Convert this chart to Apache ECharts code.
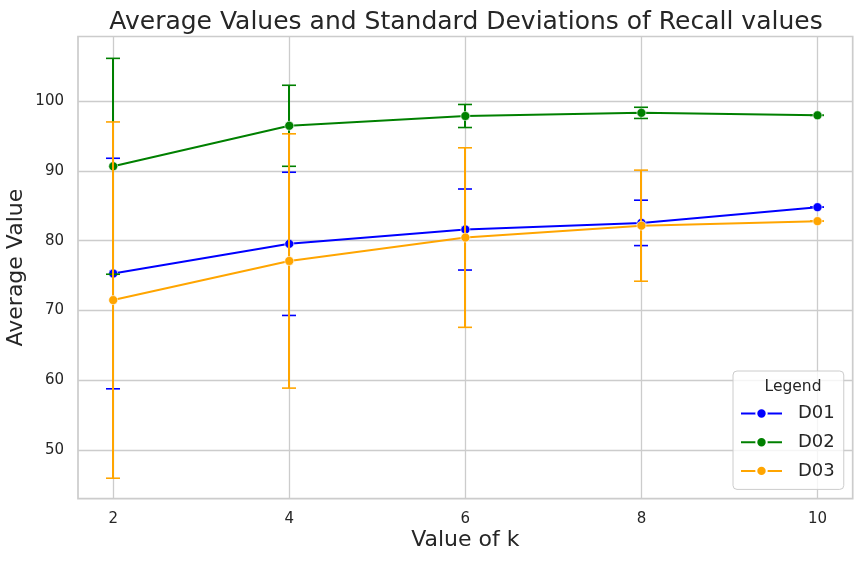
<!DOCTYPE html>
<html>
<head>
<meta charset="utf-8">
<script src="https://cdn.jsdelivr.net/npm/echarts@6/dist/echarts.min.js"></script>
<style>
  html, body { margin: 0; padding: 0; background: #fff; }
  #main { width: 862px; height: 563px; }
</style>
</head>
<body>
<div id="main"></div>
<script>
// values
var kValues = [2, 4, 6, 8, 10];
var yTicks = [50, 60, 70, 80, 90, 100];

var d01Mean = [75.3, 79.55, 81.6, 82.55, 84.8];
var d01Std  = [16.5, 10.25, 5.8, 3.25, 0];
var d02Mean = [90.65, 96.45, 97.85, 98.3, 97.95];
var d02Std  = [15.45, 5.8, 1.65, 0.8, 0];
var d03Mean = [71.5, 77.1, 80.45, 82.15, 82.8];
var d03Std  = [25.5, 18.2, 12.85, 7.95, 0];

var FONT = 'DejaVu Sans';
var TXT = '#262626';

var chart = echarts.init(document.getElementById('main'));

function points(means) {
    return kValues.map(function (k, i) { return [k, means[i]]; });
}
function bars(means, sds) {
    return kValues.map(function (k, i) { return [k, means[i] - sds[i], means[i] + sds[i]]; });
}

// vertical bar with caps at both ends, snapped to whole pixels
function errorBar(color) {
    return function (params, api) {
        var x = api.value(0);
        var top = api.coord([x, api.value(2)]);
        var bot = api.coord([x, api.value(1)]);
        var cx = Math.round(top[0]);
        var cap = 7;
        var st = { stroke: color, lineWidth: 2 };
        return {
            type: 'group',
            children: [
                { type: 'line', shape: { x1: cx, y1: top[1], x2: cx, y2: bot[1] }, style: st },
                { type: 'line', shape: { x1: cx - cap, y1: top[1], x2: cx + cap, y2: top[1] }, style: { stroke: color, lineWidth: 1.6 } },
                { type: 'line', shape: { x1: cx - cap, y1: bot[1], x2: cx + cap, y2: bot[1] }, style: { stroke: color, lineWidth: 1.6 } }
            ]
        };
    };
}

function lineSeries(name, means, color, z) {
    return {
        name: name,
        type: 'line',
        data: points(means),
        z: z,
        symbol: 'circle',
        symbolSize: 9,
        showSymbol: true,
        itemStyle: { color: color, borderColor: '#fff', borderWidth: 0.6 },
        lineStyle: { color: color, width: 2 },
        emphasis: { disabled: true },
        animation: false
    };
}

function barSeries(name, means, sds, color, z) {
    return {
        name: name + ' std',
        type: 'custom',
        data: bars(means, sds),
        encode: { x: 0, y: [1, 2] },
        renderItem: errorBar(color),
        z: z,
        silent: true,
        animation: false
    };
}

var option = {
    backgroundColor: '#ffffff',
    textStyle: { fontFamily: FONT, color: TXT },
    title: [{
        text: 'Average Values and Standard Deviations of Recall values',
        left: 461,
        textAlign: 'center',
        top: 5,
        textStyle: { fontFamily: FONT, fontSize: 25, fontWeight: 'normal', color: TXT }
    }, {
        text: 'Legend',
        left: 788,
        textAlign: 'center',
        top: 374,
        z: 40,
        textStyle: { fontFamily: FONT, fontSize: 15.5, fontWeight: 'normal', color: TXT }
    }],
    legend: {
        data: ['D01', 'D02', 'D03'],
        orient: 'vertical',
        left: 733,
        top: 371,
        padding: [32.5, 9, 8.5, 7],
        itemWidth: 41,
        itemHeight: 13,
        itemGap: 8.7,
        borderColor: '#cccccc',
        borderWidth: 1,
        borderRadius: 4,
        backgroundColor: 'rgba(255,255,255,0.8)',
        textStyle: { fontFamily: FONT, fontSize: 18, lineHeight: 20, color: TXT, padding: [0, 0, 0, 11] },
        z: 20
    },
    grid: {
        left: 78,
        right: 9.3,
        top: 36.5,
        bottom: 64.3,
        show: true,
        borderColor: '#cccccc',
        borderWidth: 1.7,
        outerBoundsMode: 'none'
    },
    xAxis: {
        type: 'value',
        min: 1.6,
        max: 10.4,
        name: 'Value of k',
        nameLocation: 'middle',
        nameGap: 31,
        nameMoveOverlap: false,
        nameTextStyle: { fontFamily: FONT, fontSize: 22, color: TXT },
        axisLine: { show: false },
        axisTick: { show: false, customValues: kValues },
        axisLabel: { customValues: kValues, margin: 13, fontFamily: FONT, fontSize: 15, color: TXT },
        splitLine: { show: true, lineStyle: { color: '#cccccc', width: 1.3 } }
    },
    yAxis: {
        type: 'value',
        min: 43.07,
        max: 109.23,
        name: 'Average Value',
        nameLocation: 'middle',
        nameGap: 51,
        nameMoveOverlap: false,
        nameTextStyle: { fontFamily: FONT, fontSize: 22, color: TXT },
        axisLine: { show: false },
        axisTick: { show: false, customValues: yTicks },
        axisLabel: { customValues: yTicks, margin: 14, fontFamily: FONT, fontSize: 15, color: TXT },
        splitLine: { show: true, lineStyle: { color: '#cccccc', width: 1.3 } }
    },
    series: [
        barSeries('D01', d01Mean, d01Std, '#0000ff', 2),
        lineSeries('D01', d01Mean, '#0000ff', 3),
        barSeries('D02', d02Mean, d02Std, '#008000', 4),
        lineSeries('D02', d02Mean, '#008000', 5),
        barSeries('D03', d03Mean, d03Std, '#ffa500', 6),
        lineSeries('D03', d03Mean, '#ffa500', 7)
    ]
};

chart.setOption(option);
</script>
</body>
</html>
